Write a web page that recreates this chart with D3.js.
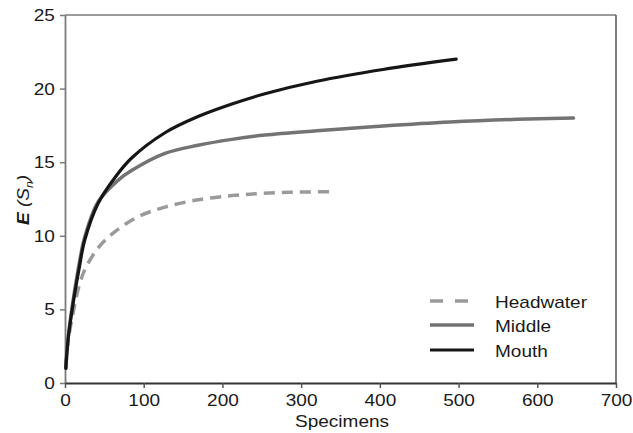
<!DOCTYPE html>
<html><head><meta charset="utf-8">
<script src="https://cdn.jsdelivr.net/npm/d3@7"></script>
<style>body{margin:0;background:#fff}svg{display:block;font-family:"Liberation Sans",Arial,sans-serif}</style>
</head><body>
<svg id="c" width="633" height="433"></svg>
<script>
const seriesNames = ["Headwater", "Middle", "Mouth"];
const headwaterX = [1, 4, 10, 19, 27, 44, 64, 93, 127, 169, 212, 246, 290, 339];
const headwaterY = [1, 2.8, 4.7, 6.8, 7.9, 9.3, 10.3, 11.3, 11.95, 12.45, 12.73, 12.87, 12.96, 13.0];
const middleX = [1, 4, 10, 18, 25, 42, 68, 85, 127, 169, 212, 254, 320, 404, 489, 574, 646];
const middleY = [1, 3.1, 5.5, 8.1, 9.9, 12.3, 13.8, 14.45, 15.6, 16.15, 16.55, 16.85, 17.14, 17.46, 17.73, 17.91, 18.0];
const mouthX = [1, 4, 10, 18, 25, 42, 64, 85, 127, 169, 212, 254, 320, 404, 497];
const mouthY = [1, 3.0, 5.3, 7.8, 9.7, 12.2, 14.0, 15.3, 17.0, 18.1, 18.95, 19.65, 20.5, 21.3, 22.0];
const xTicks = [0, 100, 200, 300, 400, 500, 600, 700];
const yTicks = [0, 5, 10, 15, 20, 25];

const svg = d3.select("#c");
const L = 65, R = 616, T = 15, B = 383;
const SX = 1.12;
const x = d3.scaleLinear().domain([0, 700]).range([L, R]);
const y = d3.scaleLinear().domain([0, 25]).range([B, T]);

svg.append("line").attr("x1", L).attr("x2", R).attr("y1", T).attr("y2", T).attr("stroke", "#7a7a7a").attr("stroke-width", 1.5);
svg.append("line").attr("x1", R).attr("x2", R).attr("y1", T).attr("y2", B).attr("stroke", "#555").attr("stroke-width", 1.5);

const gy = svg.append("g").attr("transform", `translate(${L},0)`)
  .call(d3.axisLeft(y).tickValues(yTicks).tickSize(5).tickSizeOuter(0).tickPadding(4));
gy.select(".domain").attr("stroke", "#7a7a7a").attr("stroke-width", 1.8);
gy.selectAll(".tick line").attr("stroke", "#7a7a7a").attr("stroke-width", 1.5);
gy.selectAll("text").attr("font-size", 17).attr("fill", "#1a1a1a").attr("font-family", "Liberation Sans, Arial")
  .attr("transform", `scale(${SX},1)`);

const gx = svg.append("g").attr("transform", `translate(0,${B})`)
  .call(d3.axisBottom(x).tickValues(xTicks).tickSize(5).tickSizeOuter(0).tickPadding(6));
gx.select(".domain").attr("stroke", "#333").attr("stroke-width", 2);
gx.selectAll(".tick line").attr("stroke", "#555").attr("stroke-width", 1.5);
gx.selectAll("text").attr("font-size", 17).attr("fill", "#1a1a1a").attr("font-family", "Liberation Sans, Arial")
  .attr("transform", `scale(${SX},1)`);

svg.append("text").attr("transform", `translate(342,427) scale(${SX},1)`).attr("text-anchor", "middle")
  .attr("font-size", 17).attr("fill", "#1a1a1a").text("Specimens");

const yl = svg.append("text").attr("transform", "translate(29,200) rotate(-90) scale(1.12,1)").attr("text-anchor", "middle")
  .attr("font-size", 17).attr("fill", "#1a1a1a").attr("font-style", "italic");
yl.append("tspan").attr("font-weight", "bold").text("E");
yl.append("tspan").text(" (S");
yl.append("tspan").attr("font-size", 11).attr("dy", 4).text("n");
yl.append("tspan").attr("dy", -4).text(")");

const styles = {
  Headwater: {xs: headwaterX, ys: headwaterY, color: "#9a9a9a", w: 3.5, dash: "11,7"},
  Middle: {xs: middleX, ys: middleY, color: "#737373", w: 3.5, dash: null},
  Mouth: {xs: mouthX, ys: mouthY, color: "#161616", w: 3.2, dash: null}
};
const line = d3.line().x(d => x(d[0])).y(d => y(d[1])).curve(d3.curveCatmullRom.alpha(0.5));
seriesNames.forEach(n => {
  const s = styles[n];
  const pts = s.xs.map((v, i) => [v, s.ys[i]]);
  const p = svg.append("path").datum(pts).attr("d", line).attr("fill", "none")
    .attr("stroke", s.color).attr("stroke-width", s.w).attr("stroke-linecap", "round");
  if (s.dash) p.attr("stroke-dasharray", s.dash).attr("stroke-linecap", "butt");
});

const legY = [301, 325, 350];
seriesNames.forEach((n, i) => {
  const s = styles[n];
  const l = svg.append("line").attr("x1", 430).attr("x2", 474).attr("y1", legY[i]).attr("y2", legY[i])
    .attr("stroke", s.color).attr("stroke-width", s.w);
  if (s.dash) l.attr("stroke-dasharray", "13,12");
  svg.append("text").attr("transform", `translate(495,${legY[i] + 6.5}) scale(${SX},1)`)
    .attr("font-size", 17).attr("fill", "#1a1a1a").text(n);
});
</script>
</body></html>
